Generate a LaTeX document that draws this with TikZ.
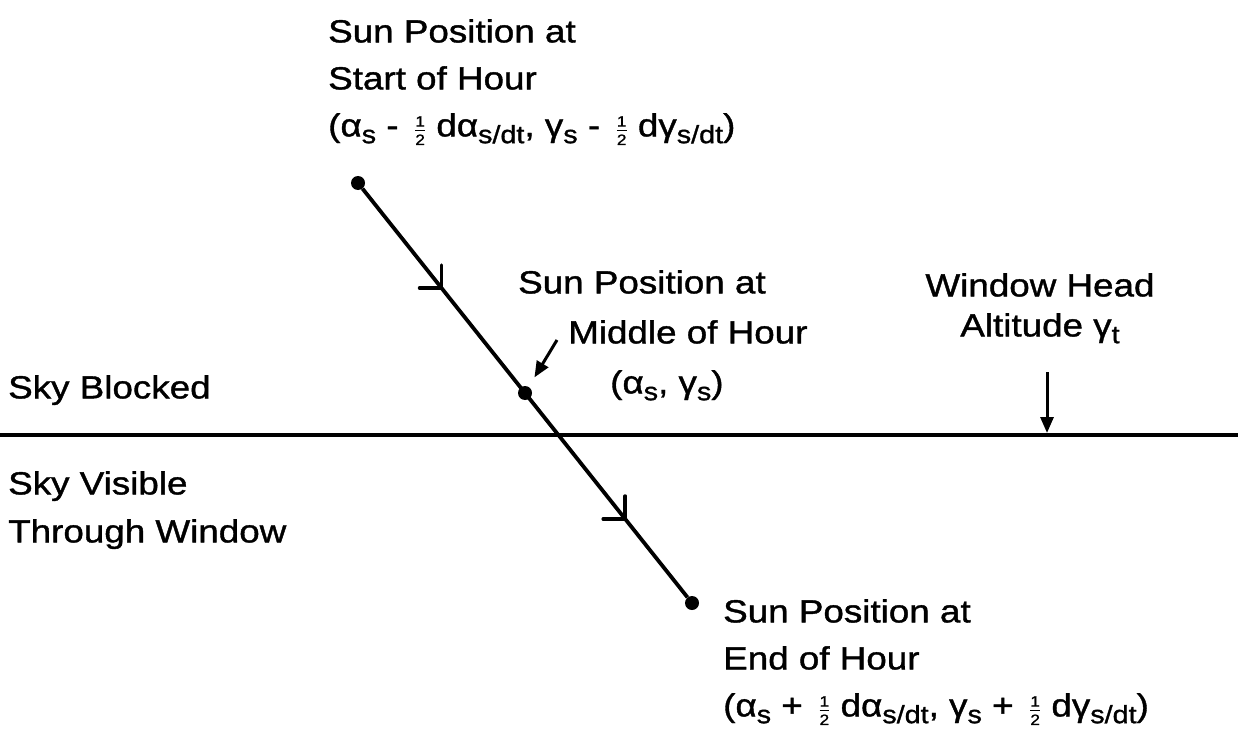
\documentclass[tikz,border=0pt]{standalone}
\usepackage{fontspec}
\setmainfont[FakeStretch=1.15, FakeBold=1.2]{Liberation Sans}
\usepackage{tikz}
\usetikzlibrary{arrows.meta, positioning, calc}

\newcommand{\lowidx}[1]{\raisebox{-0.4ex}{\fontsize{25}{25}\selectfont #1}}
\newcommand{\halfsym}{\,$\frac{\hbox{\fontsize{15}{15}\selectfont 1}}{\hbox{\fontsize{15}{15}\selectfont 2}}$\ }

\begin{document}
\begin{tikzpicture}[x=1pt, y=-1pt,
    dot/.style={circle, fill, inner sep=0pt, minimum size=14pt},
    txt/.style={anchor=north west, inner sep=0pt, align=left, font=\fontsize{32}{47}\selectfont},
    pointer/.style={-{Triangle[length=16pt, width=13pt]}, line width=3pt},
    sunpath/.style={line width=3.8pt},
    horizon/.style={line width=4.2pt},
    tick/.style={line width=3.5pt, line cap=round}
  ]
    \useasboundingbox (0,0) rectangle (1238,730);

    % Window head line
    \coordinate (hzleft) at (0,435);
    \coordinate (hzright) at (1238,435);
    \draw[horizon] (hzleft) -- (hzright);

    % Sun positions
    \node[dot] (start) at (358,183) {};
    \node[dot] (mid) at (525,393) {};
    \node[dot] (end) at (692,603) {};
    \draw[sunpath] (start) -- (end);

    % Direction marks
    \coordinate (mark1) at ($(start)!0.25!(end)$);
    \coordinate (mark2) at ($(start)!0.8!(end)$);
    \foreach \m in {mark1, mark2}
      \draw[tick] (\m) -- ++(-22,0) (\m) -- ++(0,-23);

    % Labels
    \node[txt] (startlbl) at (328,19) {
      Sun Position at\\
      Start of Hour\\
      (α\lowidx{s} - \halfsym dα\lowidx{s/dt}, γ\lowidx{s} - \halfsym dγ\lowidx{s/dt})
    };
    \node[txt, font=\fontsize{32}{50}\selectfont] (midlbl) at (518,270) {
      Sun Position at\\
      \hspace*{50pt}Middle of Hour\\
      \hspace*{92pt}(α\lowidx{s}, γ\lowidx{s})
    };
    \node[txt] (endlbl) at (723,599) {
      Sun Position at\\
      End of Hour\\
      (α\lowidx{s} + \halfsym dα\lowidx{s/dt}, γ\lowidx{s} + \halfsym dγ\lowidx{s/dt})
    };
    \node[txt, anchor=north, align=center, font=\fontsize{32}{40}\selectfont] (headlbl) at (1040,273) {
      Window Head\\
      Altitude γ\lowidx{t}
    };
    \node[txt] (blocked) at (8,375) {Sky Blocked};
    \node[txt, font=\fontsize{32}{48}\selectfont] (visible) at (8,471) {
      Sky Visible\\
      Through Window
    };

    % Pointers
    \coordinate (midtail) at (557,340);
    \draw[pointer, shorten >=11pt] (midtail) -- (mid);
    \coordinate (headtail) at (1047,372);
    \coordinate (headpt) at (1047,433);
    \draw[pointer] (headtail) -- (headpt);

\end{tikzpicture}
\end{document}
